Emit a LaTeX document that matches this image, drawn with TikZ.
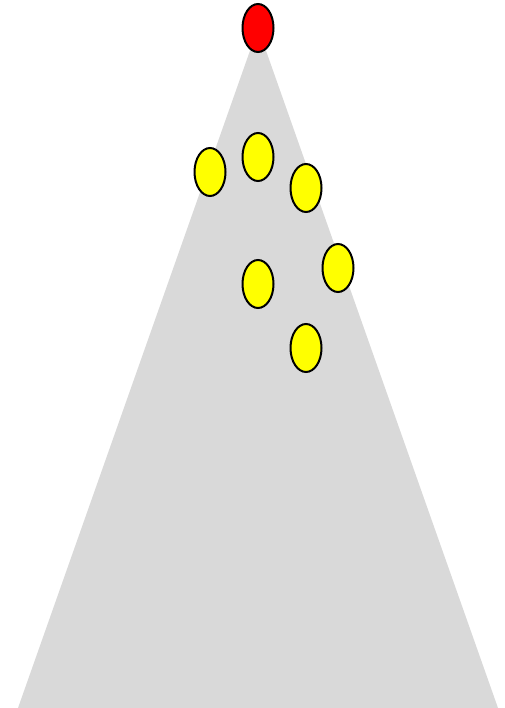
\documentclass[tikz,border=0pt]{standalone}
\usetikzlibrary{shapes.geometric}
\definecolor{ballyellow}{RGB}{255,255,0}
\definecolor{ballred}{RGB}{255,0,0}
\definecolor{conegray}{RGB}{217,217,217}

\begin{document}
\begin{tikzpicture}[x=1pt, y=-1pt, line width=2pt,
		ball/.style={ellipse, draw=black, minimum width=31pt, minimum height=48pt, inner sep=0pt}]
			
			\useasboundingbox (0,0) rectangle (504,708);
			
			\coordinate (A) at (258, 28);
			\coordinate (L) at (18, 708);
			\coordinate (R) at (498, 708);
			
			\fill[conegray] (A) -- (L) -- (R) -- cycle;
			
			\node[ball, fill=ballred] (top) at (A) {};
			
			\node[ball, fill=ballyellow] (y1) at (210, 172) {};
			\node[ball, fill=ballyellow] (y2) at (258, 157) {};
			\node[ball, fill=ballyellow] (y3) at (306, 188) {};
			\node[ball, fill=ballyellow] (y4) at (338, 268) {};
			\node[ball, fill=ballyellow] (y5) at (258, 284) {};
			\node[ball, fill=ballyellow] (y6) at (306, 348) {};
			
	\end{tikzpicture}
\end{document}
